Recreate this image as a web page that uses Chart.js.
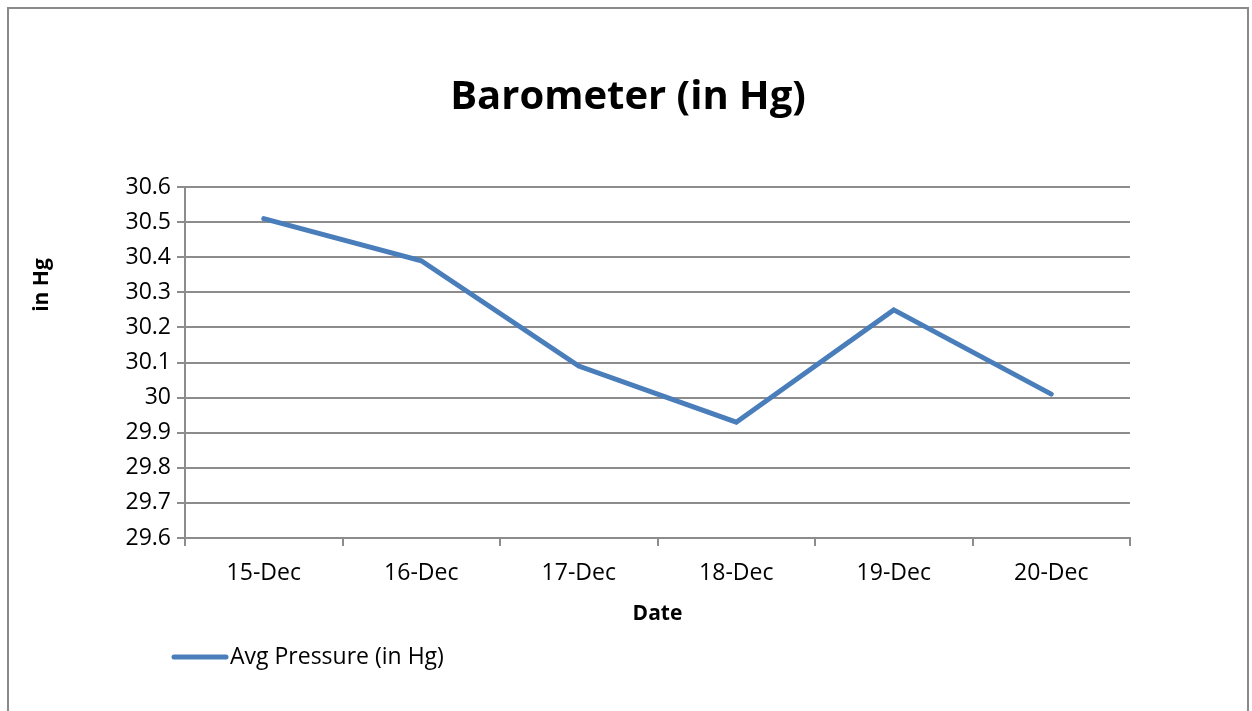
<!DOCTYPE html>
<html>
<head>
<meta charset="utf-8">
<script src="https://cdn.jsdelivr.net/npm/chart.js@4"></script>
<style>
  body { margin: 0; background: #fff; }
  #frame { position: absolute; left: 7px; top: 7px; width: 1242px; height: 720px; border: 2px solid #8a8a8a; box-sizing: border-box; }
  #wrap { position: absolute; left: 0; top: 0; width: 1252px; height: 711px; }
</style>
</head>
<body>
<div id="frame"></div>
<div id="wrap"><canvas id="chart" width="1252" height="711"></canvas></div>
<script>
// chart data
const dates = ['15-Dec', '16-Dec', '17-Dec', '18-Dec', '19-Dec', '20-Dec'];
const pressure = [30.51, 30.39, 30.09, 29.93, 30.25, 30.01];
const seriesName = 'Avg Pressure (in Hg)';
const chartTitle = 'Barometer (in Hg)';
const xTitle = 'Date';
const yTitle = 'in Hg';

const FONT = "'Open Sans', sans-serif";
const GRID = '#8c8c8c';
const BLUE = '#4a7ebb';

// title, y title and legend drawn by hand so they sit where Excel put them
const extras = {
    id: 'extras',
    afterDraw(chart) {
        const ctx = chart.ctx;
        ctx.save();
        ctx.fillStyle = '#000';
        ctx.textBaseline = 'middle';

        ctx.font = 'bold 40px ' + FONT;
        ctx.textAlign = 'center';
        ctx.fillText(chartTitle, 628, 98);

        ctx.save();
        ctx.translate(42, 285);
        ctx.rotate(-Math.PI / 2);
        ctx.font = 'bold 21px ' + FONT;
        ctx.fillText(yTitle, 0, 0);
        ctx.restore();

        const ds = chart.data.datasets[0];
        ctx.strokeStyle = ds.borderColor;
        ctx.lineWidth = ds.borderWidth;
        ctx.lineCap = 'round';
        ctx.beginPath();
        ctx.moveTo(174, 657);
        ctx.lineTo(226, 657);
        ctx.stroke();
        ctx.font = '23px ' + FONT;
        ctx.textAlign = 'left';
        ctx.fillText(ds.label, 230, 657);
        ctx.restore();
    }
};

const ctx = document.getElementById('chart').getContext('2d');
new Chart(ctx, {
    type: 'line',
    data: {
        labels: dates,
        datasets: [{
            label: seriesName,
            data: pressure,
            borderColor: BLUE,
            borderWidth: 5,
            pointRadius: 0,
            tension: 0,
            borderCapStyle: 'round',
            borderJoinStyle: 'miter'
        }]
    },
    options: {
        responsive: false,
        animation: false,
        layout: { padding: { left: 0, right: 122, top: 187, bottom: 83 } },
        plugins: {
            legend: { display: false },
            title: { display: false },
            tooltip: { enabled: false }
        },
        scales: {
            x: {
                offset: true,
                grid: {
                    offset: true,
                    drawOnChartArea: false,
                    color: GRID,
                    lineWidth: 2,
                    tickLength: 8
                },
                border: { color: GRID, width: 2 },
                ticks: { color: '#000', font: { family: FONT, size: 23 }, padding: 14 },
                title: {
                    display: true,
                    text: xTitle,
                    color: '#000',
                    font: { family: FONT, size: 21, weight: 'bold' },
                    padding: { top: 0, bottom: 1 }
                },
                afterFit(scale) { scale.height = 90; }
            },
            y: {
                min: 29.6,
                max: 30.6,
                grid: { color: GRID, lineWidth: 2, tickLength: 8 },
                border: { color: GRID, width: 2 },
                ticks: {
                    stepSize: 0.1,
                    color: '#000',
                    padding: 6,
                    font: { family: FONT, size: 23 },
                    callback: v => Math.round(v * 10) / 10
                },
                afterFit(scale) { scale.width = 185; }
            }
        }
    },
    plugins: [extras]
});
</script>
</body>
</html>
